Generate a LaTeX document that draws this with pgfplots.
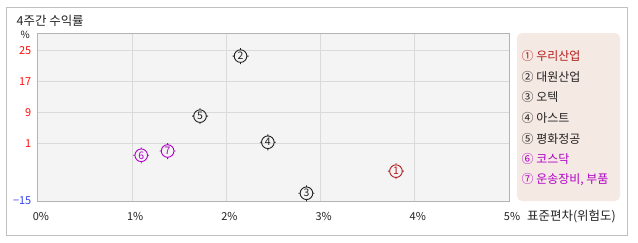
\documentclass[border=0pt]{standalone}
\usepackage{pgfplots}
\pgfplotsset{compat=1.18}
\usepackage{fontspec}
\setmainfont{Noto Sans CJK KR}
\definecolor{plotbg}{HTML}{F4F4F4}
\definecolor{gridc}{HTML}{DADADA}
\definecolor{framec}{HTML}{B4B4B4}
\definecolor{outerc}{HTML}{C0C0C0}
\definecolor{legbg}{HTML}{F5E9E3}
\definecolor{cred}{HTML}{B31B1B}
\definecolor{tred}{HTML}{FF1010}
\definecolor{tblue}{HTML}{3344EE}
\definecolor{cpur}{HTML}{B000C8}
\definecolor{cdark}{HTML}{222222}
\pgfdeclareplotmark{tcirc}{%
  \pgfpathcircle{\pgfpointorigin}{6.3bp}%
  \pgfpathmoveto{\pgfqpoint{0bp}{6.3bp}}\pgfpathlineto{\pgfqpoint{0bp}{8bp}}%
  \pgfpathmoveto{\pgfqpoint{0bp}{-6.3bp}}\pgfpathlineto{\pgfqpoint{0bp}{-8bp}}%
  \pgfpathmoveto{\pgfqpoint{6.3bp}{0bp}}\pgfpathlineto{\pgfqpoint{8bp}{0bp}}%
  \pgfpathmoveto{\pgfqpoint{-6.3bp}{0bp}}\pgfpathlineto{\pgfqpoint{-8bp}{0bp}}%
  \pgfusepathqstroke}
\pgfplotsset{
  pt/.style={only marks, mark=tcirc, color=#1, mark options={line width=0.9bp, draw=#1},
    nodes near coords, point meta=explicit symbolic,
    every node near coord/.append style={anchor=center, inner sep=0pt, text=#1, font=\fontsize{10.5}{10.5}\selectfont}},
}
\begin{document}
\begin{tikzpicture}
\begin{axis}[
  name=ax,
  width=471bp, height=167bp, scale only axis,
  xmin=0, xmax=5, ymin=-13.9, ymax=29.2,
  axis background/.style={fill=plotbg},
  axis line style={draw=framec, line width=1bp},
  grid=major, grid style={draw=gridc, line width=1bp},
  xtick={0,1,2,3,4,5}, xticklabels={0\%,1\%,2\%,3\%,4\%,5\%},
  ytick={1,9,17,25}, yticklabels={1,9,17,25},
  extra y ticks={-13.9}, extra y tick labels={−15},
  extra y tick style={grid=none, yticklabel style={text=tblue}},
  major tick length=0pt,
  xticklabel style={anchor=center, inner sep=0pt, yshift=-15.5bp, xshift=3bp, text=cdark, font=\fontsize{11}{11}\selectfont},
  yticklabel style={anchor=east, inner sep=0pt, xshift=-6.5bp, text=tred, font=\fontsize{11}{11}\selectfont},
  clip=false,
]
\addplot[pt=cred] table[meta=l] {
x y l
3.80 -6.2 1
};
\addplot[pt=cdark] table[meta=l] {
x y l
2.15 23.5 2
2.85 -11.9 3
2.44 1.26 4
1.72 8.0 5
};
\addplot[pt=cpur] table[meta=l] {
x y l
1.096 -2.1 6
1.376 -1.0 7
};
\end{axis}
\begin{scope}[shift={(ax.south west)}, x=1bp, y=1bp]
\path[use as bounding box] (-38,-41) rectangle (600,201);
\draw[outerc, line width=1bp] (-31.5,201-7.5) rectangle (589,201-235);
\node[anchor=west, inner sep=0pt, text=cdark, font=\fontsize{12.5}{12.5}\selectfont] at (-21.5,201-21) {4주간 수익률};
\node[inner sep=0pt, text=cdark, font=\fontsize{10}{10}\selectfont] at (-12.7,201-34.5) {\%};
\fill[legbg, rounded corners=5bp] (479,201-33) rectangle (582,201-201);
\node[anchor=west, inner sep=0pt, text=cdark, font=\fontsize{12.5}{12.5}\selectfont] at (489,201-216.7) {표준편차(위험도)};
\begin{scope}[every node/.style={anchor=west, inner sep=0pt, font=\fontsize{12}{12}\selectfont}]
\node[text=cred] at (483.5,201-56) {① 우리산업};
\node[text=cdark] at (483.5,201-76.7) {② 대원산업};
\node[text=cdark] at (483.5,201-97.3) {③ 오텍};
\node[text=cdark] at (483.5,201-118) {④ 아스트};
\node[text=cdark] at (483.5,201-138.7) {⑤ 평화정공};
\node[text=cpur] at (483.5,201-159.3) {⑥ 코스닥};
\node[text=cpur] at (483.5,201-180) {⑦ 운송장비, 부품};
\end{scope}
\end{scope}
\end{tikzpicture}
\end{document}
